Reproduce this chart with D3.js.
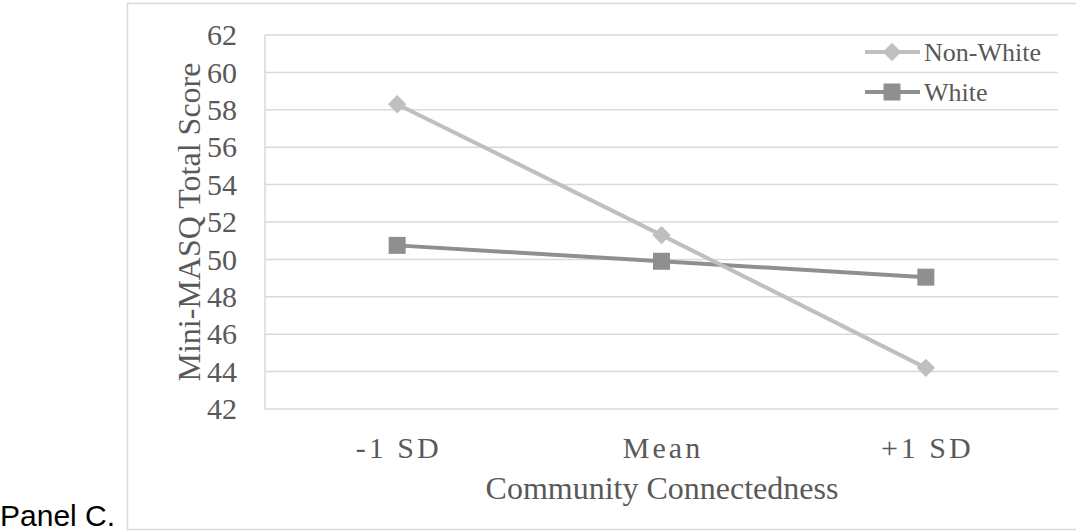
<!DOCTYPE html>
<html><head><meta charset="utf-8">
<script src="https://cdn.jsdelivr.net/npm/d3@7/dist/d3.min.js"></script>
<style>body{margin:0;background:#fff}svg{display:block}</style>
</head><body>
<script>
const categories = ["-1 SD", "Mean", "+1 SD"];
const nonWhite = [58.3, 51.3, 44.2];
const white = [50.75, 49.9, 49.05];
const yTicks = [42, 44, 46, 48, 50, 52, 54, 56, 58, 60, 62];
const seriesNames = ["Non-White", "White"];

const W = 1076, H = 531;
const svg = d3.select("body").append("svg").attr("width", W).attr("height", H);
const serif = "'Liberation Serif','Times New Roman',serif";
const gridC = "#d9d9d9", textC = "#595959";

// frame
svg.append("path").attr("d", `M${W+2},3.5H127.5V529.5H${W+2}`)
  .attr("fill", "none").attr("stroke", gridC).attr("stroke-width", 1.5);

const x = d3.scaleBand().domain(categories).range([265, 1058]);
const y = d3.scaleLinear().domain([42, 62]).range([409, 35]);

// gridlines
svg.append("g").selectAll("line").data(yTicks).join("line")
  .attr("x1", 265).attr("x2", 1058)
  .attr("y1", d => y(d)).attr("y2", d => y(d))
  .attr("stroke", gridC).attr("stroke-width", 1.5);
svg.append("line").attr("x1", 265).attr("x2", 265).attr("y1", y(62)).attr("y2", y(42))
  .attr("stroke", gridC).attr("stroke-width", 1.5);

// y tick labels
svg.append("g").selectAll("text").data(yTicks).join("text")
  .attr("x", 237).attr("y", d => y(d)).attr("dy", "0.34em")
  .attr("text-anchor", "end").attr("font-family", serif).attr("font-size", 30)
  .attr("fill", textC).text(d => d);

// x tick labels
svg.append("g").selectAll("text").data(categories).join("text")
  .attr("x", d => x(d) + x.bandwidth() / 2 + 1.5).attr("y", 458)
  .attr("text-anchor", "middle").attr("font-family", serif).attr("font-size", 30)
  .attr("letter-spacing", 3).attr("fill", textC).text(d => d);

// axis titles
svg.append("text").attr("x", 662).attr("y", 499).attr("text-anchor", "middle")
  .attr("font-family", serif).attr("font-size", 32).attr("fill", textC)
  .text("Community Connectedness");
svg.append("text").attr("transform", "translate(200,222) rotate(-90)")
  .attr("text-anchor", "middle").attr("font-family", serif).attr("font-size", 32)
  .attr("fill", textC).text("Mini-MASQ Total Score");

// Panel label
svg.append("text").attr("x", 0).attr("y", 526)
  .attr("font-family", "'Liberation Sans',Arial,sans-serif").attr("font-size", 30)
  .attr("fill", "#000").text("Panel C.");

const cx = d => x(d) + x.bandwidth() / 2;
const line = d3.line().x((d, i) => cx(categories[i])).y(d => y(d));
const colNW = "#bfbfbf", colW = "#8f8f8f";

function diamond(g, px, py, c) {
  g.append("rect").attr("x", px - 6.5).attr("y", py - 6.5).attr("width", 13).attr("height", 13)
    .attr("fill", c).attr("transform", `rotate(45,${px},${py})`);
}
function square(g, px, py, c) {
  g.append("rect").attr("x", px - 8.5).attr("y", py - 8.5).attr("width", 17).attr("height", 17)
    .attr("fill", c);
}

svg.append("path").datum(white).attr("d", line).attr("fill", "none")
  .attr("stroke", colW).attr("stroke-width", 4);
svg.append("path").datum(nonWhite).attr("d", line).attr("fill", "none")
  .attr("stroke", colNW).attr("stroke-width", 4);
const mk = svg.append("g");
white.forEach((v, i) => square(mk, cx(categories[i]), y(v), colW));
nonWhite.forEach((v, i) => diamond(mk, cx(categories[i]), y(v), colNW));

// legend
const lg = svg.append("g");
const legY = [52, 92];
const legCols = [colNW, colW];
seriesNames.forEach((n, i) => {
  lg.append("line").attr("x1", 865).attr("x2", 920).attr("y1", legY[i]).attr("y2", legY[i])
    .attr("stroke", legCols[i]).attr("stroke-width", 4);
  if (i === 0) diamond(lg, 892, legY[i], legCols[i]); else square(lg, 892, legY[i], legCols[i]);
  lg.append("text").attr("x", 924).attr("y", legY[i]).attr("dy", "0.34em")
    .attr("font-family", serif).attr("font-size", 26).attr("fill", textC).text(n);
});
</script>
</body></html>
